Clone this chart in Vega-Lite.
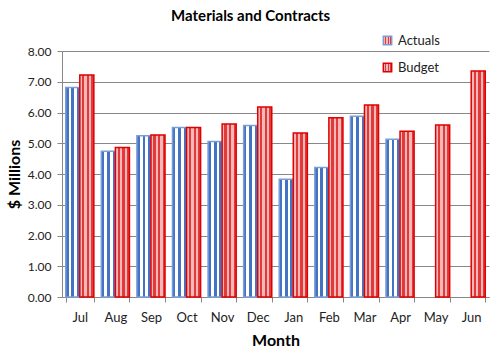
{
  "$schema": "https://vega.github.io/schema/vega-lite/v6.json",
  "width": 427,
  "height": 246,
  "autosize": {"type": "none"},
  "padding": {"left": 62, "top": 51, "right": 9, "bottom": 56},
  "background": "white",
  "title": {
    "text": "Materials and Contracts",
    "font": "Lato",
    "fontSize": 15,
    "fontWeight": "bold",
    "color": "black",
    "anchor": "middle",
    "frame": "bounds",
    "offset": 10,
    "dx": 3
  },
  "data": {
    "values": [
      {"Month": "Jul", "Series": "Actuals", "Value": 6.81},
      {"Month": "Jul", "Series": "Budget", "Value": 7.22},
      {"Month": "Aug", "Series": "Actuals", "Value": 4.74},
      {"Month": "Aug", "Series": "Budget", "Value": 4.86},
      {"Month": "Sep", "Series": "Actuals", "Value": 5.24},
      {"Month": "Sep", "Series": "Budget", "Value": 5.27},
      {"Month": "Oct", "Series": "Actuals", "Value": 5.51},
      {"Month": "Oct", "Series": "Budget", "Value": 5.51},
      {"Month": "Nov", "Series": "Actuals", "Value": 5.06},
      {"Month": "Nov", "Series": "Budget", "Value": 5.63},
      {"Month": "Dec", "Series": "Actuals", "Value": 5.58},
      {"Month": "Dec", "Series": "Budget", "Value": 6.18},
      {"Month": "Jan", "Series": "Actuals", "Value": 3.83},
      {"Month": "Jan", "Series": "Budget", "Value": 5.33},
      {"Month": "Feb", "Series": "Actuals", "Value": 4.21},
      {"Month": "Feb", "Series": "Budget", "Value": 5.83},
      {"Month": "Mar", "Series": "Actuals", "Value": 5.88},
      {"Month": "Mar", "Series": "Budget", "Value": 6.24},
      {"Month": "Apr", "Series": "Actuals", "Value": 5.13},
      {"Month": "Apr", "Series": "Budget", "Value": 5.39},
      {"Month": "May", "Series": "Budget", "Value": 5.59},
      {"Month": "Jun", "Series": "Budget", "Value": 7.35}
    ]
  },
  "mark": {"type": "bar", "strokeWidth": 1.5},
  "encoding": {
    "x": {
      "field": "Month",
      "type": "nominal",
      "sort": ["Jul", "Aug", "Sep", "Oct", "Nov", "Dec", "Jan", "Feb", "Mar", "Apr", "May", "Jun"],
      "scale": {"paddingInner": 0.21, "paddingOuter": 0.105},
      "axis": {
        "title": "Month",
        "titleFont": "Lato",
        "titleFontSize": 16,
        "titleFontWeight": "bold",
        "titleColor": "black",
        "titlePadding": 8,
        "labelAngle": 0,
        "labelFont": "Lato",
        "labelFontSize": 13,
        "labelColor": "#222",
        "labelPadding": 9,
        "tickBand": "extent",
        "tickColor": "#888",
        "tickSize": 5,
        "domainColor": "#888",
        "grid": false
      }
    },
    "xOffset": {"field": "Series", "type": "nominal", "scale": {"paddingInner": 0, "paddingOuter": 0}},
    "y": {
      "field": "Value",
      "type": "quantitative",
      "scale": {"domain": [0, 8]},
      "axis": {
        "title": "$ Millions",
        "titleFont": "Lato",
        "titleFontSize": 16,
        "titleFontWeight": "bold",
        "titleColor": "black",
        "titlePadding": 5,
        "format": ".2f",
        "tickCount": 8,
        "labelFont": "Lato",
        "labelFontSize": 12,
        "labelColor": "#222",
        "labelPadding": 6,
        "tickColor": "#888",
        "tickSize": 5,
        "domainColor": "#888",
        "gridColor": "#888",
        "gridWidth": 1
      }
    },
    "fill": {
      "condition": {
        "test": "datum.Series === 'Actuals'",
        "value": {"gradient": "linear", "x1": 0, "y1": 0, "x2": 1, "y2": 0, "stops": [
          {"offset": 0, "color": "#4472C4"}, {"offset": 0.2, "color": "#4472C4"},
          {"offset": 0.2, "color": "#FFFFFF"}, {"offset": 0.4, "color": "#FFFFFF"},
          {"offset": 0.4, "color": "#4472C4"}, {"offset": 0.6, "color": "#4472C4"},
          {"offset": 0.6, "color": "#FFFFFF"}, {"offset": 0.8, "color": "#FFFFFF"},
          {"offset": 0.8, "color": "#4472C4"}, {"offset": 1, "color": "#4472C4"}
        ]}
      },
      "value": {"gradient": "linear", "x1": 0, "y1": 0, "x2": 1, "y2": 0, "stops": [
        {"offset": 0, "color": "#F4B8B8"}, {"offset": 0.167, "color": "#F4B8B8"},
        {"offset": 0.167, "color": "#E23A3A"}, {"offset": 0.333, "color": "#E23A3A"},
        {"offset": 0.333, "color": "#F4B8B8"}, {"offset": 0.5, "color": "#F4B8B8"},
        {"offset": 0.5, "color": "#E23A3A"}, {"offset": 0.667, "color": "#E23A3A"},
        {"offset": 0.667, "color": "#F4B8B8"}, {"offset": 0.833, "color": "#F4B8B8"},
        {"offset": 0.833, "color": "#E23A3A"}, {"offset": 1, "color": "#E23A3A"}
      ]}
    },
    "stroke": {
      "field": "Series",
      "type": "nominal",
      "scale": {"domain": ["Actuals", "Budget"], "range": ["#7C9ED8", "#E00000"]},
      "legend": {
        "title": null,
        "orient": "none",
        "legendX": 319,
        "legendY": -17,
        "direction": "vertical",
        "symbolType": "square",
        "symbolSize": 70,
        "symbolStrokeWidth": 1.5,
        "labelFont": "Lato",
        "labelFontSize": 13,
        "labelColor": "#222",
        "rowPadding": 12,
        "labelOffset": 4,
        "encode": {
          "symbols": {
            "update": {
              "fill": {"signal": "datum.value === 'Actuals' ? '#7E9DD6' : '#EC7A7A'"},
              "stroke": {"signal": "datum.value === 'Actuals' ? '#4472C4' : '#E00000'"}
            }
          }
        }
      }
    }
  },
  "config": {
    "view": {"stroke": null}
  }
}
